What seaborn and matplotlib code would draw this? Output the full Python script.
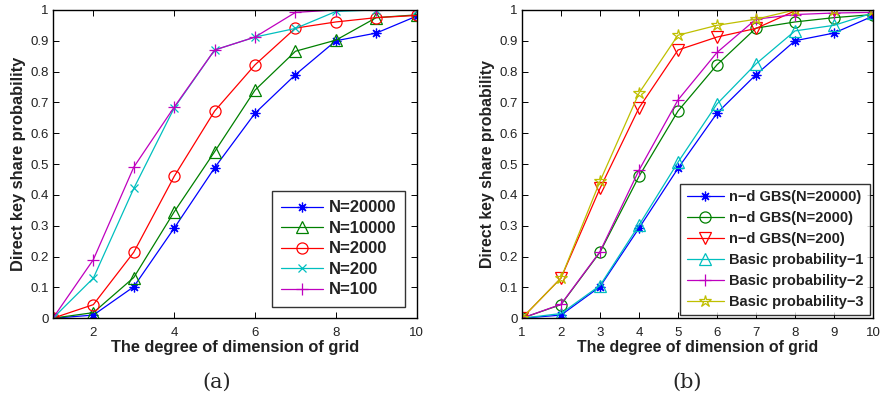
import numpy as np
import pandas as pd
import seaborn as sns
import matplotlib
matplotlib.use("Agg")
import matplotlib.pyplot as plt
from matplotlib.ticker import FuncFormatter

# grid dimension (x axis)
dims = [1, 2, 3, 4, 5, 6, 7, 8, 9, 10]

# panel (a): n-d GBS for several network sizes
a_labels = ["N=20000", "N=10000", "N=2000", "N=200", "N=100"]
a_n20000 = [0, 0.010, 0.102, 0.292, 0.488, 0.665, 0.790, 0.900, 0.925, 0.980]
a_n10000 = [0, 0.018, 0.132, 0.345, 0.540, 0.740, 0.866, 0.902, 0.975, 0.984]
a_n2000 = [0, 0.044, 0.214, 0.460, 0.672, 0.822, 0.941, 0.961, 0.975, 0.982]
a_n200 = [0, 0.130, 0.421, 0.682, 0.870, 0.912, 0.940, 0.995, 1.0, 1.0]
a_n100 = [0, 0.190, 0.490, 0.685, 0.870, 0.912, 0.992, 1.0, 1.0, 1.0]

# panel (b): n-d GBS vs basic probability
b_labels = ["n\u2212d GBS(N=20000)", "n\u2212d GBS(N=2000)", "n\u2212d GBS(N=200)",
            "Basic probability\u22121", "Basic probability\u22122", "Basic probability\u22123"]
b_gbs20000 = [0, 0.010, 0.102, 0.292, 0.486, 0.665, 0.790, 0.900, 0.925, 0.980]
b_gbs2000 = [0, 0.044, 0.214, 0.460, 0.672, 0.822, 0.941, 0.961, 0.975, 0.985]
b_gbs200 = [0, 0.130, 0.421, 0.682, 0.870, 0.912, 0.940, 0.997, 0.999, 0.999]
b_basic1 = [0, 0.015, 0.106, 0.302, 0.506, 0.695, 0.825, 0.932, 0.950, 0.990]
b_basic2 = [0, 0.045, 0.216, 0.480, 0.708, 0.862, 0.970, 0.985, 0.990, 0.992]
b_basic3 = [0, 0.130, 0.444, 0.730, 0.918, 0.950, 0.970, 1.0, 1.0, 1.0]

blue, green, red = (0, 0, 1), (0, 0.5, 0), (1, 0, 0)
cyan, magenta, yellow = (0, 0.75, 0.75), (0.75, 0, 0.75), (0.75, 0.75, 0)
asterisk = (8, 2, 0)

sns.set_style("ticks")
plt.rcParams['font.family'] = ['Liberation Sans', 'DejaVu Sans']
plt.rcParams['xtick.direction'] = 'in'
plt.rcParams['ytick.direction'] = 'in'
plt.rcParams['xtick.top'] = True
plt.rcParams['ytick.right'] = True

fig = plt.figure(figsize=(8.82, 3.97), dpi=100)
ax1 = fig.add_axes([0.0600, 0.1985, 0.4125, 0.7765])
ax2 = fig.add_axes([0.5918, 0.1985, 0.3980, 0.7765])


def draw(ax, series, labels, colors, markers, sizes, label_fs, leg_fs, handlelen, axpad, lspace, bpad):
    for ys, lab, c, m, s in zip(series, labels, colors, markers, sizes):
        sns.lineplot(x=dims, y=ys, ax=ax, color=c, marker=m, markersize=s,
                     markerfacecolor='none', markeredgecolor=c,
                     markeredgewidth=0.9, linewidth=0.9, label=lab)
    ax.set_xlim(1, 10)
    ax.set_ylim(0, 1)
    ax.set_yticks(np.arange(0, 1.01, 0.1))
    ax.yaxis.set_major_formatter(FuncFormatter(lambda v, p: f"{v:.1f}".rstrip('0').rstrip('.') if v > 0 else "0"))
    ax.tick_params(labelsize=9.5, length=4, width=0.7, colors='black', labelcolor='#222222')
    ax.tick_params(axis='x', pad=6.5)
    ax.tick_params(axis='y', pad=3)
    for sp in ax.spines.values():
        sp.set_visible(True)
        sp.set_linewidth(1.0)
        sp.set_color('black')
    ax.set_xlabel("The degree of dimension of grid", fontsize=label_fs, fontweight='bold',
                  labelpad=0.5, color='#222222')
    ax.set_ylabel("Direct key share probability", fontsize=label_fs, fontweight='bold',
                  labelpad=3, color='#222222')
    leg = ax.legend(loc='lower right', frameon=True, fancybox=False, handlelength=handlelen,
                    prop={'weight': 'bold', 'size': leg_fs}, borderaxespad=axpad,
                    labelspacing=lspace, handletextpad=0.35, borderpad=bpad)
    leg.get_frame().set_edgecolor('black')
    leg.get_frame().set_linewidth(1.0)
    for t in leg.get_texts():
        t.set_color('#222222')
    return leg


draw(ax1, [a_n20000, a_n10000, a_n2000, a_n200, a_n100], a_labels,
     [blue, green, red, cyan, magenta], [asterisk, '^', 'o', 'x', '+'],
     [7, 8, 8, 6, 8], 11.8, 12, 2.5, 0.7, 0.33, 0.55)
ax1.set_xticks([2, 4, 6, 8, 10])

draw(ax2, [b_gbs20000, b_gbs2000, b_gbs200, b_basic1, b_basic2, b_basic3], b_labels,
     [blue, green, red, cyan, magenta, yellow], [asterisk, 'o', 'v', '^', '+', '*'],
     [7, 8, 8, 8, 8, 9], 11.4, 10.5, 2.55, 0.2, 0.47, 0.45)
ax2.set_xticks(dims)

fig.text(0.246, 0.038, "(a)", ha='center', va='center', fontsize=15, family='DejaVu Serif')
fig.text(0.779, 0.038, "(b)", ha='center', va='center', fontsize=15, family='DejaVu Serif')

fig.savefig("out.png", dpi=100)
